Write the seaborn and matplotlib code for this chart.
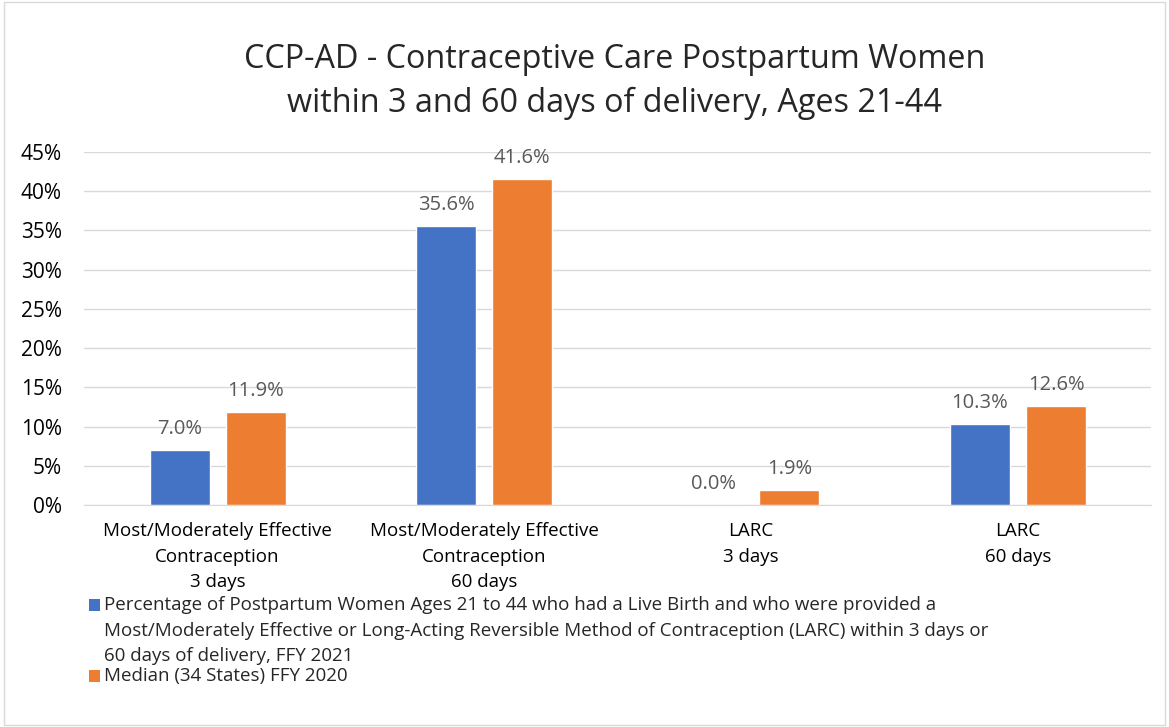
import seaborn as sns
import matplotlib.pyplot as plt
import pandas as pd
from matplotlib.patches import Rectangle
from matplotlib.ticker import PercentFormatter

categorias = [
    'Most/Moderately Effective\nContraception\n3 days',
    'Most/Moderately Effective\nContraception\n60 days',
    'LARC\n3 days',
    'LARC\n60 days',
]
serie_2021 = [0.070, 0.356, 0.000, 0.103]
serie_mediana = [0.119, 0.416, 0.019, 0.126]
nomes_series = [
    'Percentage of Postpartum Women Ages 21 to 44 who had a Live Birth and who were provided a\n'
    'Most/Moderately Effective or Long-Acting Reversible Method of Contraception (LARC) within 3 days or\n'
    '60 days of delivery, FFY 2021',
    'Median (34 States) FFY 2020',
]
cores = ['#4472C4', '#ED7D31']

df = pd.DataFrame({
    'categoria': categorias * 2,
    'valor': serie_2021 + serie_mediana,
    'serie': [nomes_series[0]] * 4 + [nomes_series[1]] * 4,
})

sns.set_style('white')
plt.rcParams['font.family'] = ['Open Sans', 'DejaVu Sans']

fig = plt.figure(figsize=(11.69, 7.27), dpi=100)
ax = fig.add_axes([0.072, 0.305, 0.913, 0.486])

sns.barplot(data=df, x='categoria', y='valor', hue='serie', palette=cores,
            width=0.57, gap=0.21, saturation=1, ax=ax, legend=False)

ax.set_ylim(0, 0.45)
ax.set_yticks([i * 0.05 for i in range(10)])
ax.yaxis.set_major_formatter(PercentFormatter(1.0, decimals=0))
ax.grid(axis='y', color='#D9D9D9', linewidth=1)
ax.set_axisbelow(True)
for lado in ['top', 'right', 'left']:
    ax.spines[lado].set_visible(False)
ax.spines['bottom'].set_color('#D9D9D9')
ax.tick_params(axis='both', length=0, colors='#000000')
ax.tick_params(axis='y', labelsize=15, pad=16)
ax.tick_params(axis='x', labelsize=13.5, pad=12)
ax.set_xlabel('')
ax.set_ylabel('')
for lbl in ax.get_xticklabels():
    lbl.set_linespacing(1.55)

# Rótulos de valor
for cont in ax.containers:
    ax.bar_label(cont, labels=[f'{v * 100:.1f}%' for v in cont.datavalues],
                 padding=8, fontsize=14.5, color='#595959')

fig.text(0.526, 0.888, 'CCP-AD - Contraceptive Care Postpartum Women\nwithin 3 and 60 days of delivery, Ages 21-44',
         ha='center', va='center', fontsize=23.3, linespacing=1.45)

# Legenda manual (marcador alinhado com a primeira linha)
leg_x = 0.0765
leg_y = [1 - 605 / 727, 1 - 676 / 727]
for cor, nome, y in zip(cores, nomes_series, leg_y):
    fig.patches.append(Rectangle((leg_x, y - 6 / 727), 11 / 1169, 12 / 727,
                                 transform=fig.transFigure, facecolor=cor, edgecolor='none'))
    fig.text(leg_x + 15 / 1169, y + 9 / 727, nome, ha='left', va='top',
             fontsize=13.5, linespacing=1.55)

fig.patches.append(Rectangle((0.003, 0.003), 0.994, 0.994, transform=fig.transFigure,
                             fill=False, edgecolor='#D9D9D9', linewidth=1))

fig.savefig('out.png', dpi=100)
